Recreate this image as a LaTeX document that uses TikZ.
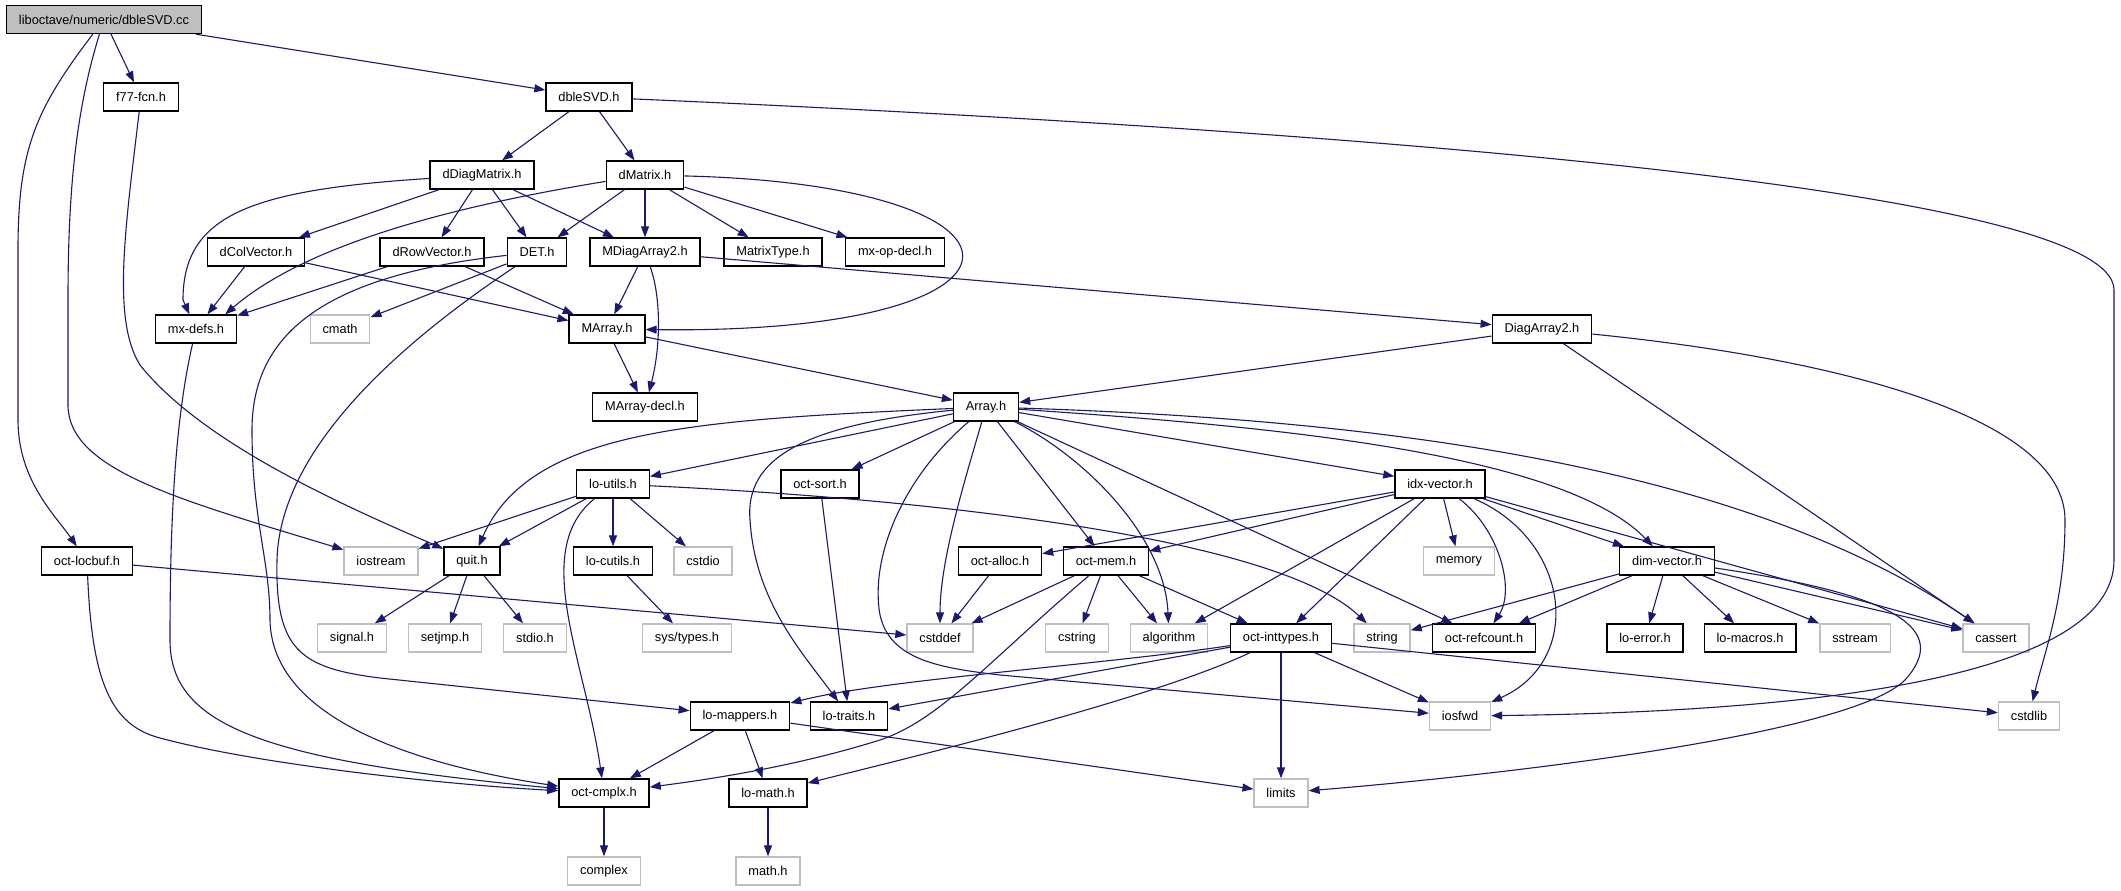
\documentclass[tikz,border=0pt]{standalone}
\usepackage{fontspec}
\setmainfont{Liberation Sans}
\usepackage{tikz}
\usetikzlibrary{arrows.meta}

\definecolor{edgeblue}{RGB}{25,25,112}
\definecolor{extgray}{RGB}{191,191,191}

\begin{document}
\begin{tikzpicture}[
    x=1pt, y=-1pt,
    >={Triangle[length=11pt,width=8pt]},
    font=\fontsize{12.8}{15}\selectfont,
    file/.style={draw=black, line width=1.3pt, rectangle, fill=white, minimum height=28pt, inner xsep=12.4pt, inner ysep=0pt},
    ext/.style={file, draw=extgray},
    src/.style={file, fill=extgray},
    dep/.style={->, color=edgeblue, line width=1.1pt},
]
    \useasboundingbox (0,0) rectangle (2121,891);

    % Source file and headers
    \node[src]  (dbleSVDcc)   at (104,19.5) {liboctave/numeric/dbleSVD.cc};
    \node[file] (f77fcn)      at (141,97)   {f77-fcn.h};
    \node[file] (dbleSVD)     at (589,97)   {dbleSVD.h};
    \node[file] (dDiagMatrix) at (482,175)  {dDiagMatrix.h};
    \node[file] (dMatrix)     at (645,175)  {dMatrix.h};
    \node[file] (dColVector)  at (256,252)  {dColVector.h};
    \node[file] (dRowVector)  at (432,252)  {dRowVector.h};
    \node[file] (DET)         at (537,252)  {DET.h};
    \node[file] (MDiagArray2) at (645,252)  {MDiagArray2.h};
    \node[file] (MatrixType)  at (773,252)  {MatrixType.h};
    \node[file] (mxopdecl)    at (895,252)  {mx-op-decl.h};
    \node[file] (mxdefs)      at (196,329)  {mx-defs.h};
    \node[ext]  (cmath)       at (340,329)  {cmath};
    \node[file] (MArray)      at (607,329)  {MArray.h};
    \node[file] (DiagArray2)  at (1542,329) {DiagArray2.h};
    \node[file] (MArraydecl)  at (645,407)  {MArray-decl.h};
    \node[file] (Array)       at (986,407)  {Array.h};
    \node[file] (loutils)     at (613,484)  {lo-utils.h};
    \node[file] (octsort)     at (820,484)  {oct-sort.h};
    \node[file] (idxvector)   at (1440,484) {idx-vector.h};
    \node[file] (octlocbuf)   at (87,561)   {oct-locbuf.h};
    \node[ext]  (iostream)    at (381,561)  {iostream};
    \node[file] (quit)        at (472,561)  {quit.h};
    \node[file] (locutils)    at (613,561)  {lo-cutils.h};
    \node[ext]  (cstdio)      at (703,561)  {cstdio};
    \node[file] (octalloc)    at (1000,561) {oct-alloc.h};
    \node[file] (octmem)      at (1106,561) {oct-mem.h};
    \node[ext]  (memory)      at (1459,561) {memory};
    \node[file] (dimvector)   at (1667,561) {dim-vector.h};
    \node[ext]  (signal)      at (352,638)  {signal.h};
    \node[ext]  (setjmp)      at (445,638)  {setjmp.h};
    \node[ext]  (stdio)       at (535,638)  {stdio.h};
    \node[ext]  (systypes)    at (687,638)  {sys/types.h};
    \node[ext]  (cstddef)     at (940,638)  {cstddef};
    \node[ext]  (cstring)     at (1077,638) {cstring};
    \node[ext]  (algorithm)   at (1169,638) {algorithm};
    \node[file] (octinttypes) at (1281,638) {oct-inttypes.h};
    \node[ext]  (string)      at (1382,638) {string};
    \node[file] (octrefcount) at (1484,638) {oct-refcount.h};
    \node[file] (loerror)     at (1645,638) {lo-error.h};
    \node[file] (lomacros)    at (1750,638) {lo-macros.h};
    \node[ext]  (sstream)     at (1855,638) {sstream};
    \node[ext]  (cassert)     at (1996,638) {cassert};
    \node[file] (lomappers)   at (740,716)  {lo-mappers.h};
    \node[file] (lotraits)    at (849,716)  {lo-traits.h};
    \node[ext]  (iosfwd)      at (1460,716) {iosfwd};
    \node[ext]  (cstdlib)     at (2029,716) {cstdlib};
    \node[file] (octcmplx)    at (604,793)  {oct-cmplx.h};
    \node[file] (lomath)      at (768,793)  {lo-math.h};
    \node[ext]  (limits)      at (1281,793) {limits};
    \node[ext]  (complex)     at (604,871)  {complex};
    \node[ext]  (mathh)       at (768,871)  {math.h};

    % Straight includes
    \foreach \a/\b in {dbleSVDcc/f77fcn, dbleSVDcc/dbleSVD, dbleSVD/dDiagMatrix, dbleSVD/dMatrix,
        dDiagMatrix/dColVector, dDiagMatrix/dRowVector, dDiagMatrix/DET, dDiagMatrix/MDiagArray2,
        dMatrix/DET, dMatrix/MDiagArray2, dMatrix/MatrixType, dMatrix/mxopdecl,
        dColVector/mxdefs, dColVector/MArray, dRowVector/mxdefs, dRowVector/MArray, DET/cmath,
        MDiagArray2/MArray, MDiagArray2/DiagArray2, MArray/MArraydecl, MArray/Array,
        DiagArray2/Array, DiagArray2/cassert,
        Array/loutils, Array/octsort, Array/octmem, Array/octrefcount, Array/idxvector,
        loutils/iostream, loutils/quit, loutils/locutils, loutils/cstdio, octlocbuf/cstddef,
        quit/signal, quit/setjmp, quit/stdio, locutils/systypes, octsort/lotraits,
        idxvector/octalloc, idxvector/octmem, idxvector/memory, idxvector/dimvector,
        idxvector/algorithm, idxvector/octinttypes, idxvector/cassert,
        octalloc/cstddef, octmem/cstddef, octmem/cstring, octmem/algorithm, octmem/octinttypes,
        dimvector/string, dimvector/octrefcount, dimvector/loerror, dimvector/lomacros,
        dimvector/sstream, dimvector/cassert,
        octinttypes/lotraits, octinttypes/limits, octinttypes/iosfwd, octinttypes/cstdlib,
        lomappers/octcmplx, lomappers/lomath, lomappers/limits, octcmplx/complex, lomath/mathh}
        \draw[dep] (\a) -- (\b);

    % Curved includes
    \draw[dep] (dbleSVDcc) .. controls (35,110) and (18,150) .. (18,250) -- (18,420)
        .. controls (18,480) and (55,515) .. (octlocbuf);
    \draw[dep] (dbleSVDcc) .. controls (76,110) and (68,190) .. (68,300) -- (68,405)
        .. controls (68,470) and (180,500) .. (iostream);
    \draw[dep] (f77fcn) .. controls (125,230) and (112,320) .. (140,365)
        .. controls (200,440) and (330,500) .. (quit);
    \draw[dep] (dbleSVD) .. controls (1300,128) and (2114,185) .. (2114,290) -- (2114,560)
        .. controls (2114,680) and (1800,712) .. (iosfwd);
    \draw[dep] (dDiagMatrix) .. controls (250,190) and (183,215) .. (183,300) -- (mxdefs);
    \draw[dep] (dMatrix) .. controls (430,210) and (300,250) .. ([xshift=-12pt]mxdefs.north east);
    \draw[dep] (dMatrix) .. controls (1060,185) and (1060,335) .. (MArray);
    \draw[dep] (DET) .. controls (330,275) and (252,330) .. (252,430)
        .. controls (252,520) and (270,560) .. (270,620)
        .. controls (272,730) and (450,770) .. (octcmplx);
    \draw[dep] (DET) .. controls (420,330) and (280,440) .. (277,560)
        .. controls (275,650) and (300,668) .. (380,678) -- (lomappers);
    \draw[dep] (mxdefs) .. controls (175,420) and (170,520) .. (170,640)
        .. controls (170,725) and (260,760) .. (octcmplx);
    \draw[dep] (octlocbuf) .. controls (92,680) and (110,725) .. (160,738)
        .. controls (260,765) and (450,785) .. (octcmplx);
    \draw[dep] (MDiagArray2) .. controls (662,300) and (660,350) .. (MArraydecl);
    \draw[dep] (DiagArray2) .. controls (1850,360) and (2065,420) .. (2065,520)
        .. controls (2065,600) and (2045,650) .. (cstdlib);
    \draw[dep] (Array) .. controls (690,420) and (530,430) .. (quit);
    \draw[dep] (Array) .. controls (800,425) and (745,460) .. (750,520)
        .. controls (755,600) and (800,650) .. (lotraits);
    \draw[dep] (Array) .. controls (900,480) and (870,560) .. (880,615)
        .. controls (890,660) and (940,668) .. (1000,675) -- (iosfwd);
    \draw[dep] (Array) .. controls (965,480) and (940,560) .. (cstddef);
    \draw[dep] (Array) .. controls (1090,460) and (1165,540) .. (algorithm);
    \draw[dep] (Array) .. controls (1250,425) and (1560,450) .. (dimvector);
    \draw[dep] (Array) .. controls (1400,420) and (1750,470) .. (cassert);
    \draw[dep] (loutils) .. controls (530,550) and (585,660) .. (octcmplx);
    \draw[dep] (loutils) .. controls (950,500) and (1280,540) .. (string);
    \draw[dep] (idxvector) .. controls (1500,530) and (1515,590) .. (octrefcount);
    \draw[dep] (idxvector) .. controls (1570,540) and (1585,660) .. (iosfwd);
    \draw[dep] (dimvector) .. controls (1900,595) and (1950,630) .. (1905,680)
        .. controls (1850,735) and (1500,775) .. (limits);
    \draw[dep] (octmem) .. controls (990,660) and (940,720) .. (880,740)
        .. controls (800,765) and (720,778) .. (octcmplx);
    \draw[dep] (octinttypes) .. controls (1100,665) and (880,680) .. (lomappers);
    \draw[dep] (octinttypes) .. controls (1150,700) and (900,760) .. (lomath);
\end{tikzpicture}
\end{document}
